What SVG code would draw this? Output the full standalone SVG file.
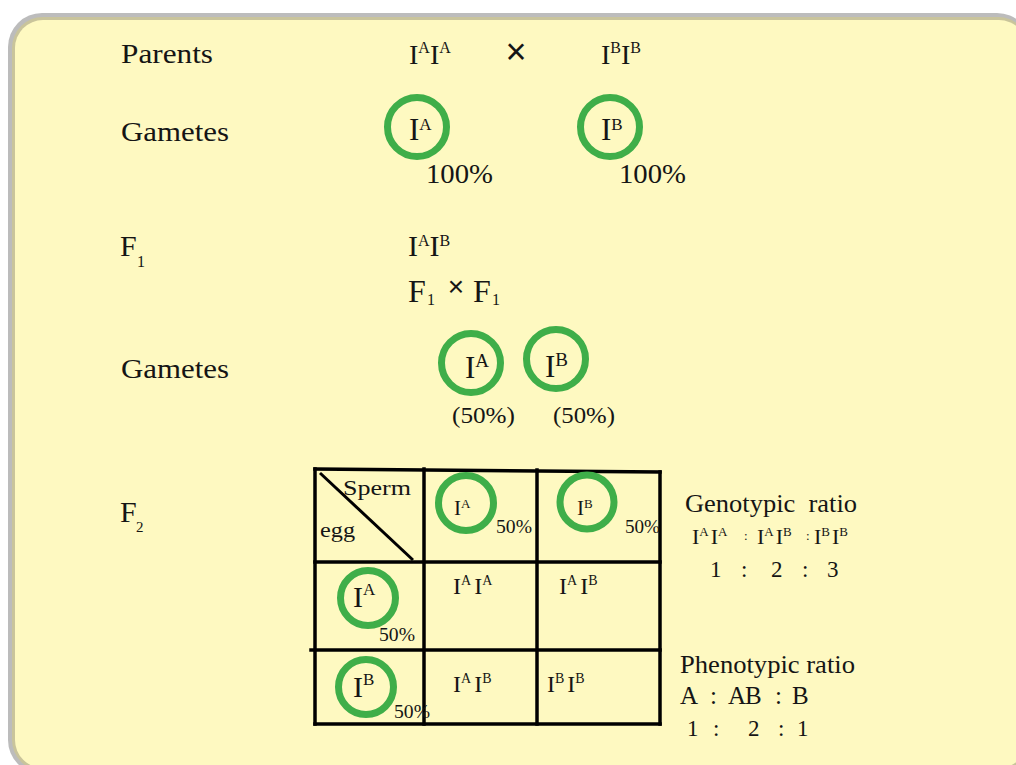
<svg xmlns="http://www.w3.org/2000/svg" width="1016" height="765" viewBox="0 0 1016 765">
<style>
.t{font-family:"Liberation Serif","Times New Roman",serif;fill:#151515}
.x{font-family:"Liberation Sans",Arial,sans-serif;fill:#151515}
.ring{fill:none;stroke:#3fae49;stroke-width:7}
.grid{fill:none;stroke:#000;stroke-width:3.5;stroke-linecap:square}
</style>
<rect width="1016" height="765" fill="#ffffff"/>
<g id="frame">
<rect x="8" y="13" width="1023" height="761" rx="34" fill="#bcbcbc"/>
<rect x="12" y="17" width="1017" height="754" rx="31" fill="#c9c49b"/>
<rect x="15" y="20" width="1012" height="748" rx="28" fill="#fef9c1"/>
</g>
<g id="labels">
<text class="t" x="121" y="63" font-size="27" textLength="92" lengthAdjust="spacingAndGlyphs">Parents</text>
<text class="t" x="121" y="141" font-size="27" textLength="108" lengthAdjust="spacingAndGlyphs">Gametes</text>
<text class="t" x="120" y="256" font-size="30">F</text><text class="t" x="137" y="267" font-size="16">1</text>
<text class="t" x="121" y="378" font-size="27" textLength="108" lengthAdjust="spacingAndGlyphs">Gametes</text>
<text class="t" x="120" y="522" font-size="30">F</text><text class="t" x="136" y="532" font-size="15">2</text>
</g>
<g id="parents">
<text class="t" x="409" y="64" font-size="28">I<tspan font-size="16" dy="-11">A</tspan><tspan dy="11">I</tspan><tspan font-size="16" dy="-11">A</tspan></text>
<text class="x" x="516" y="64" font-size="36" text-anchor="middle">×</text>
<text class="t" x="601" y="64" font-size="28">I<tspan font-size="16" dy="-11">B</tspan><tspan dy="11">I</tspan><tspan font-size="16" dy="-11">B</tspan></text>
</g>
<g id="gametes1">
<g id="gamete-A1"><circle class="ring" cx="417" cy="127" r="29.5"/><text class="t" x="409" y="140" font-size="31">I<tspan font-size="17" dy="-10">A</tspan></text></g>
<text class="t" x="426" y="183" font-size="28" textLength="67" lengthAdjust="spacingAndGlyphs">100%</text>
<g id="gamete-B1"><circle class="ring" cx="610" cy="127" r="29.5"/><text class="t" x="601" y="140" font-size="31">I<tspan font-size="17" dy="-10">B</tspan></text></g>
<text class="t" x="619" y="183" font-size="28" textLength="67" lengthAdjust="spacingAndGlyphs">100%</text>
</g>
<g id="f1">
<text class="t" x="408" y="256" font-size="30">I<tspan font-size="16" dy="-10">A</tspan><tspan dy="10">I</tspan><tspan font-size="16" dy="-10">B</tspan></text>
<text class="t" x="408" y="302" font-size="32">F</text><text class="t" x="427" y="305" font-size="16">1</text>
<text class="x" x="456" y="296" font-size="28" text-anchor="middle">×</text>
<text class="t" x="473" y="302" font-size="32">F</text><text class="t" x="492" y="305" font-size="16">1</text>
</g>
<g id="gametes2">
<g id="gamete-A2"><circle class="ring" cx="471" cy="363" r="29.5"/><text class="t" x="465" y="378" font-size="31">I<tspan font-size="19" dy="-11">A</tspan></text></g>
<text class="t" x="452" y="423" font-size="24" textLength="63" lengthAdjust="spacingAndGlyphs">(50%)</text>
<g id="gamete-B2"><circle class="ring" cx="556" cy="359" r="29.5"/><text class="t" x="545" y="377" font-size="31">I<tspan font-size="19" dy="-11">B</tspan></text></g>
<text class="t" x="553" y="423" font-size="24" textLength="62" lengthAdjust="spacingAndGlyphs">(50%)</text>
</g>
<g id="punnett-grid">
<line class="grid" x1="315" y1="469" x2="660" y2="472"/>
<line class="grid" x1="315" y1="469" x2="315" y2="724"/>
<line class="grid" x1="424" y1="469" x2="424" y2="724"/>
<line class="grid" x1="537" y1="470" x2="537" y2="724"/>
<line class="grid" x1="660" y1="472" x2="660" y2="724"/>
<line class="grid" x1="315" y1="562" x2="660" y2="562"/>
<line class="grid" x1="311" y1="650" x2="660" y2="650"/>
<line class="grid" x1="315" y1="724" x2="660" y2="724"/>
<line x1="320" y1="473" x2="413" y2="560" stroke="#000" stroke-width="3"/>
</g>
<g id="punnett-header">
<text class="t" x="343" y="495" font-size="22" textLength="68" lengthAdjust="spacingAndGlyphs">Sperm</text>
<text class="t" x="320" y="537" font-size="22" textLength="35" lengthAdjust="spacingAndGlyphs">egg</text>
<g id="sperm-A"><circle class="ring" cx="466" cy="503" r="27.5"/><text class="t" x="454" y="515" font-size="21">I<tspan font-size="13" dy="-7">A</tspan></text><text class="t" x="496" y="533" font-size="19" textLength="36" lengthAdjust="spacingAndGlyphs">50%</text></g>
<g id="sperm-B"><circle class="ring" cx="587" cy="502" r="27"/><text class="t" x="577" y="515" font-size="21">I<tspan font-size="13" dy="-7">B</tspan></text><text class="t" x="625" y="533" font-size="19" textLength="35" lengthAdjust="spacingAndGlyphs">50%</text></g>
<g id="egg-A"><circle class="ring" cx="368" cy="598" r="27.5"/><text class="t" x="353" y="607" font-size="30">I<tspan font-size="17" dy="-12">A</tspan></text><text class="t" x="379" y="641" font-size="19" textLength="36" lengthAdjust="spacingAndGlyphs">50%</text></g>
<g id="egg-B"><circle class="ring" cx="366" cy="687" r="27.5"/><text class="t" x="353" y="697" font-size="30">I<tspan font-size="17" dy="-12">B</tspan></text><text class="t" x="394" y="718" font-size="19" textLength="36" lengthAdjust="spacingAndGlyphs">50%</text></g>
</g>
<g id="punnett-cells">
<text class="t" x="453" y="594" font-size="24">I<tspan font-size="14" dy="-9">A</tspan><tspan dx="3" dy="9">I</tspan><tspan font-size="14" dy="-9">A</tspan></text>
<text class="t" x="559" y="594" font-size="24">I<tspan font-size="14" dy="-9">A</tspan><tspan dx="3" dy="9">I</tspan><tspan font-size="14" dy="-9">B</tspan></text>
<text class="t" x="453" y="692" font-size="24">I<tspan font-size="14" dy="-9">A</tspan><tspan dx="3" dy="9">I</tspan><tspan font-size="14" dy="-9">B</tspan></text>
<text class="t" x="547" y="692" font-size="24">I<tspan font-size="14" dy="-9">B</tspan><tspan dx="3" dy="9">I</tspan><tspan font-size="14" dy="-9">B</tspan></text>
</g>
<g id="genotypic-ratio">
<text class="t" x="685" y="512" font-size="25" textLength="172" lengthAdjust="spacingAndGlyphs" xml:space="preserve">Genotypic  ratio</text>
<text class="t" x="692" y="544" font-size="22">I<tspan font-size="13" dy="-8">A</tspan><tspan dx="2" dy="8">I</tspan><tspan font-size="13" dy="-8">A</tspan></text>
<text class="t" x="744" y="540" font-size="13">:</text>
<text class="t" x="757" y="544" font-size="22">I<tspan font-size="13" dy="-8">A</tspan><tspan dx="2" dy="8">I</tspan><tspan font-size="13" dy="-8">B</tspan></text>
<text class="t" x="806" y="540" font-size="13">:</text>
<text class="t" x="814" y="544" font-size="22">I<tspan font-size="13" dy="-8">B</tspan><tspan dx="2" dy="8">I</tspan><tspan font-size="13" dy="-8">B</tspan></text>
<text class="t" x="710 741 771 802 827" y="577" font-size="23">1:2:3</text>
</g>
<g id="phenotypic-ratio">
<text class="t" x="680" y="673" font-size="25" textLength="175" lengthAdjust="spacingAndGlyphs">Phenotypic ratio</text>
<text class="t" x="680 710 728 745 775 792" y="704" font-size="25">A:AB:B</text>
<text class="t" x="687 713 748 778 797" y="736" font-size="23">1:2:1</text>
</g>
</svg>
